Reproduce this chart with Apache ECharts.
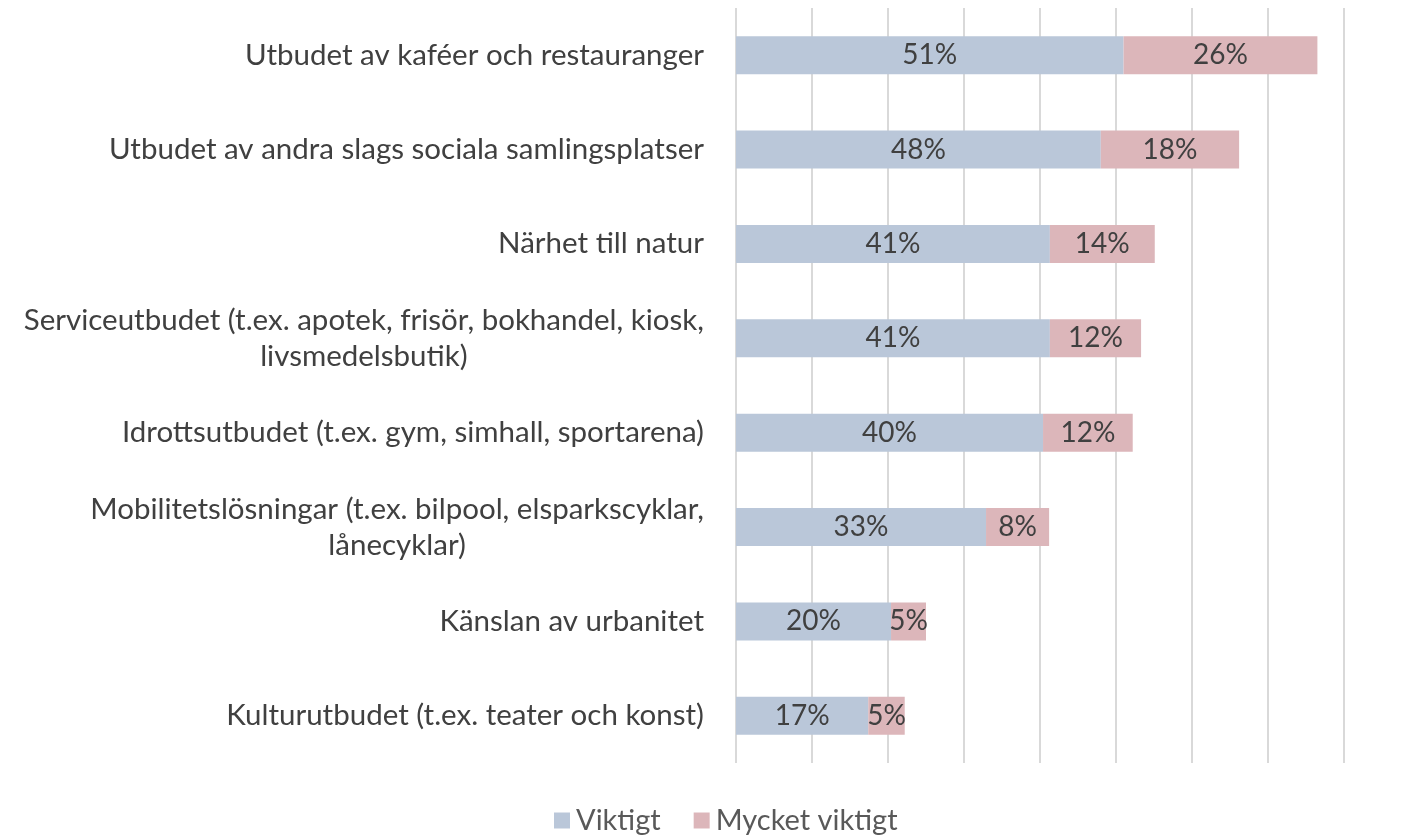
<!DOCTYPE html>
<html>
<head>
<meta charset="utf-8">
<script src="https://cdn.jsdelivr.net/npm/echarts@6/dist/echarts.min.js"></script>
<style>
  html, body { margin: 0; padding: 0; background: #fff; }
  #chart { width: 1405px; height: 836px; }
</style>
</head>
<body>
<div id="chart"></div>
<script>
// kategorier, uppifrån och ned
const categories = [
  "Utbudet av kaféer och restauranger",
  "Utbudet av andra slags sociala samlingsplatser",
  "Närhet till natur",
  "Serviceutbudet (t.ex. apotek, frisör, bokhandel, kiosk,\nlivsmedelsbutik)",
  "Idrottsutbudet (t.ex. gym, simhall, sportarena)",
  "Mobilitetslösningar (t.ex. bilpool, elsparkscyklar,\nlånecyklar)",
  "Känslan av urbanitet",
  "Kulturutbudet (t.ex. teater och konst)"
];
const viktigt = [51.0, 48.0, 41.3, 41.3, 40.4, 32.9, 20.4, 17.4];
const mycketViktigt = [25.5, 18.2, 13.8, 12.0, 11.8, 8.3, 4.6, 4.8];
const seriesNames = ["Viktigt", "Mycket viktigt"];
const colors = ["#BAC7D9", "#DCB6BA"];

const fontFam = "Lato, 'Open Sans', sans-serif";
const textColor = "#404040";

let myEcharts = echarts.init(document.getElementById("chart"));

let option = {
  animation: false,
  color: colors,
  grid: {
    left: 736,
    right: 61,
    top: 8,
    bottom: 73,
    containLabel: false
  },
  legend: {
    bottom: -4,
    left: 549,
    icon: "rect",
    itemWidth: 16,
    itemHeight: 16,
    itemGap: 33,
    textStyle: { fontFamily: fontFam, fontSize: 29, color: "#595959", padding: [0, 0, 0, 1] },
    data: seriesNames
  },
  xAxis: {
    type: "value",
    min: 0,
    max: 80,
    interval: 10,
    axisLabel: { show: false },
    axisLine: { show: false },
    axisTick: { show: false },
    splitLine: { lineStyle: { color: "#d9d9d9", width: 2 } }
  },
  yAxis: {
    type: "category",
    inverse: true,
    data: categories,
    axisLine: { show: false },
    axisTick: { show: false },
    axisLabel: {
      margin: 32,
      // radbrutna etiketter: varje rad centreras under den längsta
      formatter: function (v) {
        return v.split("\n").map(s => "{c|" + s + "}").join("\n");
      },
      rich: {
        c: {
          align: "center",
          fontFamily: fontFam,
          fontSize: 29.5,
          lineHeight: 36,
          color: textColor
        }
      }
    }
  },
  series: []
};

let data = [viktigt, mycketViktigt];
for (let i = 0; i < seriesNames.length; i++) {
  option.series.push({
    name: seriesNames[i],
    type: "bar",
    stack: "total",
    barWidth: 38,
    data: data[i],
    label: {
      show: true,
      position: "inside",
      fontFamily: fontFam,
      fontSize: 28,
      color: textColor,
      formatter: p => Math.round(p.value) + "%"
    }
  });
}

myEcharts.setOption(option);
</script>
</body>
</html>
